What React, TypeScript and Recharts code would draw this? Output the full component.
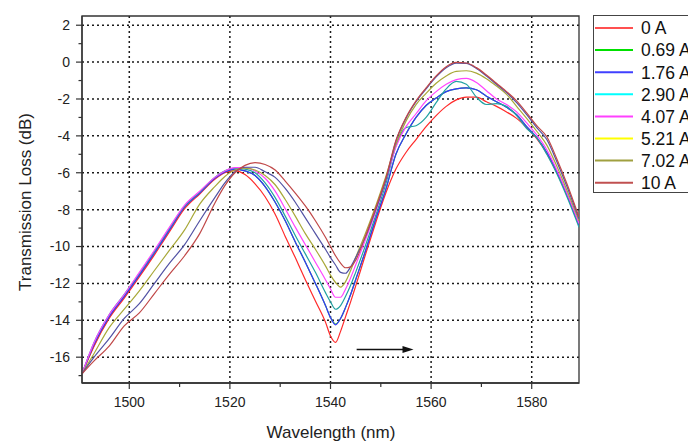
import { CartesianGrid, Line, LineChart, ReferenceArea, ReferenceLine, XAxis, YAxis } from "recharts"

// wavelength sample points (nm)
const wavelength = [
  1490.6, 1493, 1496, 1499, 1502, 1505, 1508, 1511, 1514, 1517, 1519, 1521, 1523, 1525, 1527, 1529, 1531,
  1533, 1535, 1537, 1539, 1540, 1541, 1542, 1543, 1544, 1545, 1547, 1549, 1551, 1553, 1555, 1557, 1559,
  1561, 1563, 1565, 1567, 1569, 1571, 1573, 1575, 1577, 1579, 1581, 1583, 1585, 1587, 1589.4,
]

// transmission loss (dB) per current
const loss0 = [
  -16.9, -15.4, -13.9, -12.8, -11.65, -10.45, -9.2, -7.95, -7.15, -6.35, -6.0, -5.88,
  -6.1, -6.6, -7.3, -8.25, -9.45, -10.6, -11.8, -12.95, -14.1, -14.85, -15.2, -14.6, -13.8, -13.0, -12.15,
  -10.4, -8.7, -7.1, -5.8, -4.9, -4.2, -3.5, -2.9, -2.4, -2.05, -1.9, -1.9, -2.15, -2.4, -2.7, -3.05,
  -3.55, -4.15, -4.95, -6.0, -7.2, -8.85,
]
const loss069 = [
  -16.9, -15.35, -13.85, -12.7, -11.55, -10.35, -9.1, -7.85, -7.1, -6.3, -5.95, -5.8,
  -5.9, -6.15, -6.75, -7.6, -8.6, -9.75, -10.85, -12.0, -13.2, -13.85, -14.2, -13.9, -13.3, -12.6, -11.8,
  -10.2, -8.5, -6.9, -5.0, -3.9, -3.0, -2.35, -1.95, -1.6, -1.45, -1.4, -1.5, -1.85, -2.15, -2.45, -2.85,
  -3.5, -4.1, -4.9, -5.95, -7.2, -8.85,
]
const loss176 = [
  -16.9, -15.3, -13.8, -12.7, -11.55, -10.35, -9.1, -7.85, -7.1, -6.3, -5.95, -5.8,
  -5.9, -6.15, -6.75, -7.6, -8.6, -9.75, -10.85, -12.0, -13.2, -13.85, -14.25, -13.9, -13.3, -12.6, -11.8,
  -10.2, -8.5, -6.9, -5.0, -3.9, -3.0, -2.35, -1.95, -1.6, -1.45, -1.4, -1.5, -1.85, -2.15, -2.45, -2.85,
  -3.5, -4.1, -4.9, -5.95, -7.2, -8.85,
]
const loss290 = [
  -16.9, -15.2, -13.7, -12.6, -11.45, -10.25, -9.0, -7.8, -7.05, -6.25, -5.9, -5.75,
  -5.8, -6.0, -6.55, -7.35, -8.35, -9.4, -10.4, -11.4, -12.5, -13.0, -13.4, -13.2, -12.7, -12.1, -11.4,
  -9.9, -8.3, -6.6, -4.55, -3.55, -3.45, -3.0, -2.2, -1.45, -1.05, -1.2, -1.9, -2.3, -2.25, -2.4, -2.9,
  -3.6, -4.1, -5.0, -6.05, -7.3, -8.95,
]
const loss407 = [
  -16.9, -15.2, -13.7, -12.6, -11.4, -10.2, -8.95, -7.75, -7.0, -6.25, -5.9, -5.72,
  -5.72, -5.9, -6.3, -7.0, -7.95, -8.95, -9.9, -10.85, -11.8, -12.3, -12.75, -12.75, -12.3, -11.7, -11.0,
  -9.6, -8.1, -6.4, -4.6, -3.5, -2.8, -2.1, -1.6, -1.2, -0.95, -0.88, -1.1, -1.55, -2.0, -2.3, -2.7,
  -3.3, -3.95, -4.75, -5.85, -7.1, -8.75,
]
const loss521 = [
  -16.9, -15.8, -14.4, -13.4, -12.4, -11.3, -10.2, -9.1, -7.7, -6.75, -6.2, -5.85,
  -5.75, -5.85, -6.15, -6.65, -7.45, -8.35, -9.3, -10.15, -11.05, -11.55, -11.95, -12.2, -11.9, -11.3, -10.6,
  -9.25, -7.8, -6.2, -4.45, -3.2, -2.3, -1.7, -1.15, -0.75, -0.5, -0.47, -0.6, -0.9, -1.3, -1.75, -2.4,
  -3.05, -3.75, -4.5, -5.65, -6.95, -8.6,
]
const loss702 = [
  -16.9, -16.0, -15.0, -13.9, -13.1, -12.0, -10.9, -9.9, -8.6, -7.35, -6.55, -5.95,
  -5.7, -5.7, -5.95, -6.25, -6.85, -7.6, -8.45, -9.3, -10.15, -10.6, -11.0, -11.4, -11.45, -11.1, -10.6,
  -9.45, -8.0, -6.4, -4.3, -3.05, -2.15, -1.45, -0.8, -0.3, -0.05, -0.07, -0.35, -0.75, -1.2, -1.65, -2.2,
  -2.85, -3.55, -4.2, -5.4, -6.75, -8.5,
]
const loss10 = [
  -16.9, -16.2, -15.4, -14.3, -13.6, -12.55, -11.5, -10.5, -9.3, -7.65, -6.7, -6.0,
  -5.6, -5.45, -5.55, -5.85, -6.45, -7.1, -7.8, -8.6, -9.5, -10.0, -10.5, -10.9, -11.15, -11.1, -10.75,
  -9.4, -7.9, -6.3, -4.25, -3.0, -2.1, -1.4, -0.75, -0.25, -0.02, -0.05, -0.3, -0.7, -1.15, -1.6, -2.1,
  -2.75, -3.45, -4.05, -5.25, -6.6, -8.4,
]

const labels = ["0 A", "0.69 A", "1.76 A", "2.90 A", "4.07 A", "5.21 A", "7.02 A", "10 A"]
const legendColors = ["#ff5050", "#00e000", "#4040ff", "#00ffff", "#ff40ff", "#ffff00", "#a0a040", "#c05050"]
const lineColors = ["#ff2a2a", "#30c030", "#3434ff", "#22a2a2", "#ff44ff", "#a8a838", "#5252a4", "#c04848"]
const series = [loss0, loss069, loss176, loss290, loss407, loss521, loss702, loss10]
// draw order: the 0.69 A trace sits under 1.76 A
const drawOrder = [1, 0, 2, 3, 4, 5, 6, 7]

const xTicks = [1500, 1510, 1520, 1530, 1540, 1550, 1560, 1570, 1580]
const xMajor = [1500, 1520, 1540, 1560, 1580]
const yTicks = [2, 1, 0, -1, -2, -3, -4, -5, -6, -7, -8, -9, -10, -11, -12, -13, -14, -15, -16, -17]
const yMajor = [2, 0, -2, -4, -6, -8, -10, -12, -14, -16]

const X_MIN = 1490.6
const X_MAX = 1589.4
const Y_MIN = -17.4
const Y_MAX = 2.5

const data = wavelength.map((w, i) => {
  const row: Record<string, number> = { w }
  series.forEach((s, k) => {
    row["s" + k] = s[i]
  })
  return row
})

const FONT = "'Liberation Sans', Arial, sans-serif"
const INK = "#333"

function YTick(props: any) {
  const { x, y, payload } = props
  const v = payload.value
  const major = v % 2 === 0
  const ax = x + 12
  return (
    <g>
      <line x1={ax} x2={ax - (major ? 6 : 3.5)} y1={y} y2={y} stroke={INK} strokeWidth={1.2} />
      {major && (
        <text x={x} y={y} dy="0.35em" textAnchor="end" fontSize={14} fill="#222" fontFamily={FONT}>
          {v}
        </text>
      )}
    </g>
  )
}

function XTick(props: any) {
  const { x, y, payload } = props
  const v = payload.value
  const major = xMajor.includes(v)
  const ay = y - 14
  return (
    <g>
      <line x1={x} x2={x} y1={ay} y2={ay + (major ? 6 : 4)} stroke={INK} strokeWidth={1.2} />
      {major && (
        <text x={x} y={y} dy="0.71em" textAnchor="middle" fontSize={14} fill="#222" fontFamily={FONT}>
          {v}
        </text>
      )}
    </g>
  )
}

function Arrow(props: any) {
  const { x1, y1, x2, y2 } = props
  return (
    <g>
      <line x1={x1} y1={y1} x2={x2 - 8} y2={y2} stroke="#111" strokeWidth={1.5} />
      <polygon points={`${x2},${y2} ${x2 - 11},${y2 - 3.5} ${x2 - 11},${y2 + 3.5}`} fill="#111" />
    </g>
  )
}

function LegendBox() {
  return (
    <svg width={95} height={179} style={{ position: "absolute", left: 593, top: 15 }}>
      <rect x={0.5} y={0.5} width={120} height={177} fill="#fff" stroke="#444" strokeWidth={1} />
      {labels.map((label, i) => {
        const cy = 13 + i * 22.1
        return (
          <g key={label}>
            <line x1={2} x2={40} y1={cy} y2={cy} stroke={legendColors[i]} strokeWidth={2} />
            <text x={48} y={cy} dy="0.36em" fontSize={17.5} fill="#111" fontFamily={FONT}>
              {label}
            </text>
          </g>
        )
      })}
    </svg>
  )
}

export default function App() {
  return (
    <div style={{ position: "absolute", left: 0, top: 0, width: 688, height: 442, overflow: "hidden", background: "#fff" }}>
      <LineChart width={688} height={442} data={data} margin={{ top: 16, right: 109, bottom: 0, left: 0 }}>
        <CartesianGrid
          stroke="#1a1a1a"
          strokeDasharray="2 3"
          strokeWidth={1.5}
          horizontalValues={yMajor}
          verticalValues={xMajor}
        />
        <XAxis
          dataKey="w"
          type="number"
          domain={[X_MIN, X_MAX]}
          allowDataOverflow
          ticks={xTicks}
          interval={0}
          height={59}
          tickSize={6}
          tickMargin={8}
          tickLine={false}
          tick={XTick}
          axisLine={{ stroke: INK, strokeWidth: 1.3 }}
          label={{
            content: () => (
              <text x={331} y={432} dy="0.35em" textAnchor="middle" fontSize={17} fill="#222" fontFamily={FONT}>
                Wavelength (nm)
              </text>
            ),
          }}
        />
        <YAxis
          type="number"
          domain={[Y_MIN, Y_MAX]}
          allowDataOverflow
          ticks={yTicks}
          interval={0}
          width={82}
          tickSize={6}
          tickMargin={6}
          tickLine={false}
          tick={YTick}
          axisLine={{ stroke: INK, strokeWidth: 1.3 }}
          label={{
            content: () => (
              <text
                x={25}
                y={202}
                transform="rotate(-90 25 202)"
                dy="0.35em"
                textAnchor="middle"
                fontSize={17}
                fill="#222"
                fontFamily={FONT}
              >
                Transmission Loss (dB)
              </text>
            ),
          }}
        />
        <ReferenceArea x1={X_MIN} x2={X_MAX} y1={Y_MIN} y2={Y_MAX} fill="none" stroke={INK} strokeWidth={1.3} />
        {drawOrder.map((k) => (
          <Line
            key={k}
            dataKey={"s" + k}
            name={labels[k]}
            type="monotone"
            stroke={lineColors[k]}
            strokeWidth={1.2}
            dot={false}
            isAnimationActive={false}
          />
        ))}
        <ReferenceLine
          segment={[
            { x: 1545.2, y: -15.58 },
            { x: 1556.5, y: -15.58 },
          ]}
          shape={(p: any) => <Arrow {...p} />}
        />
      </LineChart>
      <LegendBox />
    </div>
  )
}
